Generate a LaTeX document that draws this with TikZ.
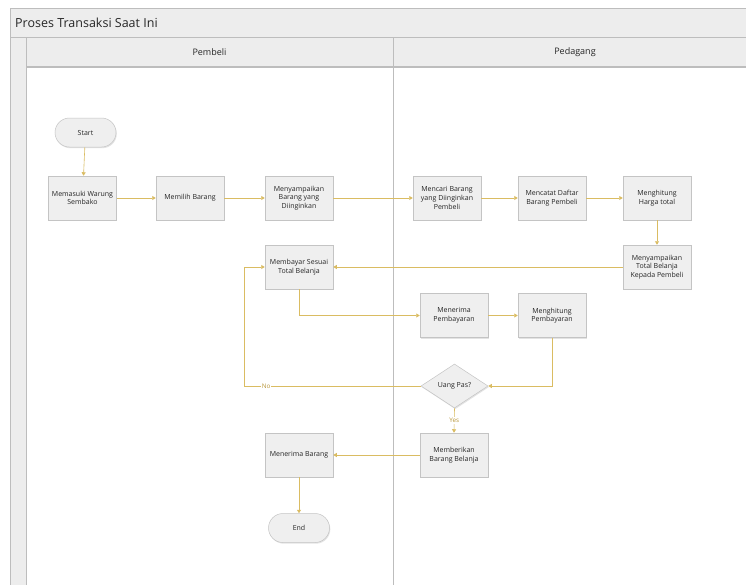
\documentclass[tikz,border=0pt]{standalone}
\usepackage{fontspec}
\setmainfont{Open Sans}
\usetikzlibrary{shapes.geometric,arrows.meta,shadows}
\definecolor{flow}{HTML}{DABC62}
\definecolor{flowtext}{HTML}{B8963A}
\definecolor{boxfill}{HTML}{EFEFEF}
\definecolor{boxline}{HTML}{C4C4C4}
\definecolor{frameline}{HTML}{BDBDBD}
\definecolor{bandfill}{HTML}{EDEDED}
\definecolor{txt}{HTML}{262626}
\tikzset{
  boxshadow/.style={drop shadow={shadow xshift=0.8pt,shadow yshift=-1.2pt,opacity=.22}},
  proc/.style={draw=boxline,fill=boxfill,line width=0.5pt,minimum width=68pt,minimum height=44pt,
    align=center,inner sep=1pt,text=txt,font=\fontsize{7}{8.6}\selectfont,boxshadow},
  term/.style={proc,minimum width=61pt,minimum height=29pt,rounded corners=14.5pt},
  decision/.style={diamond,draw=boxline,fill=boxfill,line width=0.5pt,minimum width=67pt,
    minimum height=44pt,inner sep=0pt,text=txt,font=\fontsize{7}{8.6}\selectfont,boxshadow},
  link/.style={draw=flow,line width=0.6pt,-{Triangle[width=4pt,length=3.5pt]}},
  tag/.style={text=flowtext,font=\fontsize{6.3}{7}\selectfont,inner sep=1pt},
  lane/.style={draw=frameline,line width=0.7pt}
}
\begin{document}
\begin{tikzpicture}[x=1pt,y=-1pt]
\useasboundingbox (0,0) rectangle (746,584);
\fill[white] (0,0) rectangle (746,584);
% pool frame, title band, side strip and lane headers
\fill[bandfill] (10,8) rectangle (760,37);
\fill[bandfill] (10,37) rectangle (26,600);
\fill[bandfill] (26,37) rectangle (760,67);
\draw[lane] (10,600) -- (10,8) -- (760,8);
\draw[lane] (10,37) -- (760,37);
\draw[lane] (26,37) -- (26,600);
\draw[frameline,line width=1.2pt] (26,67) -- (760,67);
\draw[lane] (393,37) -- (393,600);
\node[anchor=west,text=txt,font=\fontsize{12.5}{14}\selectfont,inner sep=0pt] (title) at (15,23) {Proses Transaksi Saat Ini};
\node[text=txt,font=\fontsize{9}{10}\selectfont] (lanea) at (209.5,52) {Pembeli};
\node[text=txt,font=\fontsize{9}{10}\selectfont] (laneb) at (575,52) {Pedagang};
% process steps
\node[term] (start) at (85.5,132.5) {Start};
\node[proc] (masuk) at (82.5,198) {Memasuki Warung\\Sembako};
\node[proc] (pilih) at (190,198) {Memilih Barang};
\node[proc] (sampai) at (299,198) {Menyampaikan\\Barang yang\\Diinginkan};
\node[proc] (cari) at (447,198) {Mencari Barang\\yang Diinginkan\\Pembeli};
\node[proc] (catat) at (552,198) {Mencatat Daftar\\Barang Pembeli};
\node[proc] (hitung) at (657,198) {Menghitung\\Harga total};
\node[proc] (total) at (657,267) {Menyampaikan\\Total Belanja\\Kepada Pembeli};
\node[proc] (bayar) at (299,267) {Membayar Sesuai\\Total Belanja};
\node[proc] (terima) at (454,315.5) {Menerima\\Pembayaran};
\node[proc] (hitbayar) at (552,315.5) {Menghitung\\Pembayaran};
\node[decision] (pas) at (454.5,386) {Uang Pas?};
\node[proc] (beri) at (454,455) {Memberikan\\Barang Belanja};
\node[proc] (barang) at (299,455) {Menerima Barang};
\node[term] (end) at (299,528) {End};
\coordinate (nobend) at (244,386);
% connectors
\draw[link] (start) -- (masuk);
\draw[link] (masuk) -- (pilih);
\draw[link] (pilih) -- (sampai);
\draw[link] (sampai) -- (cari);
\draw[link] (cari) -- (catat);
\draw[link] (catat) -- (hitung);
\draw[link] (hitung) -- (total);
\draw[link] (total.west) -- (bayar.east);
\draw[link] (bayar.south) |- (terima.west);
\draw[link] (terima) -- (hitbayar);
\draw[link] (hitbayar.south) |- (pas.east);
\draw[link] (pas.west) -- node[pos=0.875,tag,fill=white] {No} (nobend) |- (bayar.west);
\draw[link] (pas.south) -- node[tag,fill=white,pos=0.5] {Yes} (beri.north);
\draw[link] (beri) -- (barang);
\draw[link] (barang) -- (end);
\end{tikzpicture}
\end{document}
